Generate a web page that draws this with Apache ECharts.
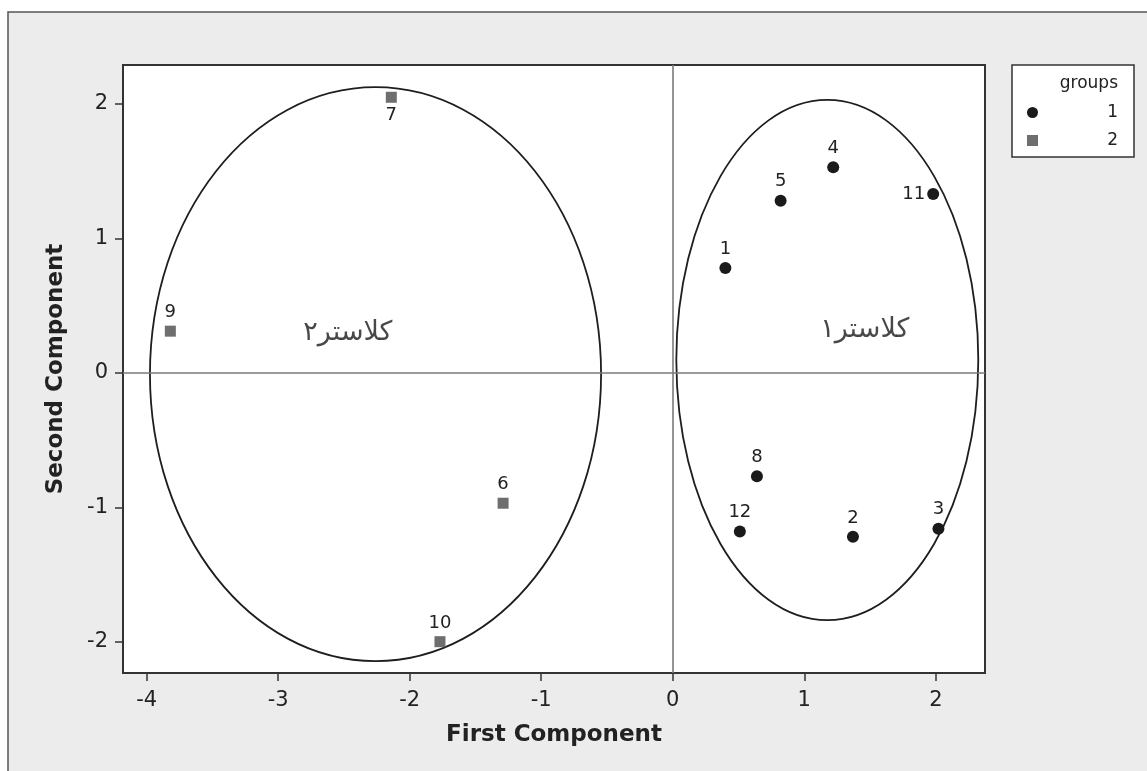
<!DOCTYPE html>
<html>
<head>
<meta charset="utf-8">
<script src="https://cdn.jsdelivr.net/npm/echarts@6/dist/echarts.min.js"></script>
<style>
html,body{margin:0;padding:0;background:#fff;}
#chart{width:1147px;height:771px;}
</style>
</head>
<body>
<div id="chart"></div>
<script>
// ---- data ----
const xTicks = [-4, -3, -2, -1, 0, 1, 2];
const yTicks = [-2, -1, 0, 1, 2];

const group1Ids = ['1', '5', '4', '11', '8', '12', '2', '3'];
const group1X   = [0.40, 0.82, 1.22, 1.98, 0.64, 0.51, 1.37, 2.02];
const group1Y   = [0.78, 1.28, 1.53, 1.33, -0.77, -1.18, -1.22, -1.16];

const group2Ids = ['7', '9', '6', '10'];
const group2X   = [-2.14, -3.82, -1.29, -1.77];
const group2Y   = [2.05, 0.31, -0.97, -2.00];

// ellipses: centre x, centre y, radius x, radius y (data units)
const ellipseCX = [-2.26, 1.175];
const ellipseCY = [-0.01, 0.095];
const ellipseRX = [1.715, 1.148];
const ellipseRY = [2.135, 1.935];

const clusterNames = ['کلاستر۲', 'کلاستر۱'];
const clusterX = [-2.47, 1.46];
const clusterY = [0.30, 0.32];

const legendNames = ['1', '2'];
// ---------------

const labelPlacement = { '7': 'bottom', '11': 'left' };
const FONT = 'DejaVu Sans';

function pts(xs, ys, ids) {
  return xs.map((x, i) => {
    const pos = labelPlacement[ids[i]] || 'top';
    return {
      value: [x, ys[i]],
      name: ids[i],
      label: { position: pos, distance: pos === 'left' ? 2 : 4 }
    };
  });
}

const chart = echarts.init(document.getElementById('chart'), null, { renderer: 'canvas' });

const option = {
  animation: false,
  backgroundColor: '#ffffff',
  textStyle: { fontFamily: FONT },
  graphic: [
    {
      type: 'rect', z: -100, silent: true,
      shape: { x: 8, y: 12, width: 1160, height: 790 },
      style: { fill: '#ececec', stroke: '#555', lineWidth: 1.5 }
    },
    {
      type: 'text', z: 100, silent: true,
      style: {
        text: 'groups', x: 1118, y: 84, align: 'right', verticalAlign: 'middle',
        fontSize: 17, fontFamily: FONT, fill: '#222'
      }
    }
  ],
  grid: {
    left: 123, top: 65, right: 162, bottom: 98,
    show: true, backgroundColor: '#ffffff', borderColor: '#333', borderWidth: 2
  },
  legend: {
    left: 1012, top: 65, orient: 'vertical',
    data: [
      { name: legendNames[0], icon: 'circle', itemStyle: { color: '#1a1a1a' } },
      { name: legendNames[1], icon: 'rect', itemStyle: { color: '#6e6e6e' } }
    ],
    itemWidth: 11, itemHeight: 11, itemGap: 11,
    padding: [39, 16, 8, 15],
    backgroundColor: '#fff', borderColor: '#333', borderWidth: 1.5,
    formatter: function (n) { return '{r|' + n + '}'; },
    textStyle: {
      fontSize: 17, color: '#222', fontFamily: FONT,
      rich: { r: { width: 75, align: 'right', fontSize: 17, lineHeight: 14, fontFamily: FONT, color: '#222' } }
    },
    selectedMode: false
  },
  xAxis: {
    type: 'value', min: -4.18, max: 2.374,
    splitLine: { show: false },
    axisLine: { show: false, onZero: false },
    axisTick: { show: true, customValues: xTicks, length: 8, lineStyle: { color: '#333', width: 1.5 } },
    axisLabel: { customValues: xTicks, fontSize: 21, color: '#222', margin: 17, fontFamily: FONT },
    name: 'First Component', nameLocation: 'middle', nameGap: 51,
    nameTextStyle: { fontSize: 23, fontWeight: 'bold', color: '#222', fontFamily: FONT }
  },
  yAxis: {
    type: 'value', min: -2.233, max: 2.29,
    splitLine: { show: false },
    axisLine: { show: false, onZero: false },
    axisTick: { show: true, customValues: yTicks, length: 8, lineStyle: { color: '#333', width: 1.5 } },
    axisLabel: { customValues: yTicks, fontSize: 21, color: '#222', margin: 15, fontFamily: FONT },
    name: 'Second Component', nameLocation: 'middle', nameGap: 55,
    nameTextStyle: { fontSize: 23, fontWeight: 'bold', color: '#222', fontFamily: FONT }
  },
  series: [
    {
      type: 'custom', name: 'ellipses', silent: true, clip: false,
      data: ellipseCX.map((cx, i) => [cx, ellipseCY[i], ellipseRX[i], ellipseRY[i]]),
      renderItem: function (params, api) {
        const c = api.coord([api.value(0), api.value(1)]);
        const s = api.size([api.value(2), api.value(3)]);
        return {
          type: 'ellipse',
          shape: { cx: c[0], cy: c[1], rx: s[0], ry: s[1] },
          style: { fill: 'none', stroke: '#1e1e1e', lineWidth: 1.8 }
        };
      },
      markLine: {
        silent: true, symbol: 'none', animation: false,
        label: { show: false },
        lineStyle: { color: '#7a7a7a', width: 1.6, type: 'solid' },
        data: [{ xAxis: 0 }, { yAxis: 0 }]
      },
      z: 1
    },
    {
      type: 'scatter', name: legendNames[0],
      symbol: 'circle', symbolSize: 12,
      itemStyle: { color: '#1a1a1a', opacity: 1 },
      label: { show: true, formatter: '{b}', fontSize: 18, color: '#222', fontFamily: FONT },
      data: pts(group1X, group1Y, group1Ids),
      z: 3
    },
    {
      type: 'scatter', name: legendNames[1],
      symbol: 'rect', symbolSize: 11,
      itemStyle: { color: '#6e6e6e', opacity: 1 },
      label: { show: true, formatter: '{b}', fontSize: 18, color: '#222', fontFamily: FONT },
      data: pts(group2X, group2Y, group2Ids),
      z: 3
    },
    {
      type: 'scatter', name: 'clusters', silent: true,
      symbolSize: 0,
      label: { show: true, position: 'inside', formatter: '{b}', fontSize: 27, color: '#1a1a1a', fontFamily: FONT },
      data: clusterX.map((x, i) => ({ value: [x, clusterY[i]], name: clusterNames[i] })),
      z: 2
    }
  ]
};

chart.setOption(option);
</script>
</body>
</html>
